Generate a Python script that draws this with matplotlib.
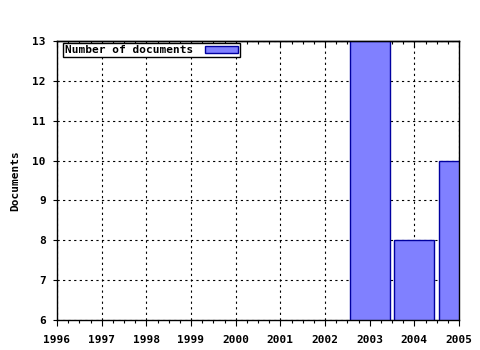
import matplotlib
matplotlib.use('Agg')
import matplotlib.pyplot as plt
from matplotlib.ticker import MultipleLocator

plt.rcParams['font.family'] = 'DejaVu Sans Mono'
plt.rcParams['font.weight'] = 'bold'
plt.rcParams['font.size'] = 8

# data
years = [2003, 2004, 2005]
documents = [13, 8, 10]
year_ticks = list(range(1996, 2006))

fig = plt.figure(figsize=(4.8, 3.5), dpi=100, facecolor='white')
ax = fig.add_axes([57 / 480, 1 - 320 / 350, (459 - 57) / 480, (320 - 41) / 350])

ax.bar(years, documents, width=0.9, color='#8080ff', edgecolor='#0000a0',
       linewidth=1, label='Number of documents', zorder=2)

ax.set_xlim(1996, 2005)
ax.set_ylim(6, 13)
ax.set_xticks(year_ticks)
ax.xaxis.set_minor_locator(MultipleLocator(0.25))
ax.yaxis.set_major_locator(MultipleLocator(1))

ax.grid(True, which='major', color='black', linestyle=(0, (2, 3)), linewidth=0.8, zorder=0)
ax.tick_params(axis='x', which='major', direction='out', length=4, width=0.8, pad=7)
ax.tick_params(axis='x', which='minor', direction='out', length=2.5, width=0.8)
ax.tick_params(axis='y', direction='out', length=3, width=0.8, pad=5)
for s in ax.spines.values():
    s.set_linewidth(1)

# top ticks point inward
top = ax.secondary_xaxis('top')
top.set_xticks(year_ticks)
top.xaxis.set_minor_locator(MultipleLocator(0.25))
top.tick_params(which='major', direction='in', length=4, width=0.8, labeltop=False)
top.tick_params(which='minor', direction='in', length=2.5, width=0.8)
top.spines['top'].set_linewidth(1)

ax.set_ylabel('Documents', fontsize=8, fontweight='bold', labelpad=9)

leg = ax.legend(loc='upper left', bbox_to_anchor=(6 / 402, 1 - 2 / 279), borderaxespad=0,
                markerfirst=False, fancybox=False, framealpha=1, edgecolor='black',
                borderpad=0.2, handlelength=3.0, handleheight=0.55, handletextpad=1.0,
                fontsize=8)
leg.get_frame().set_linewidth(1)

fig.savefig('out.png', dpi=100, facecolor='white')
